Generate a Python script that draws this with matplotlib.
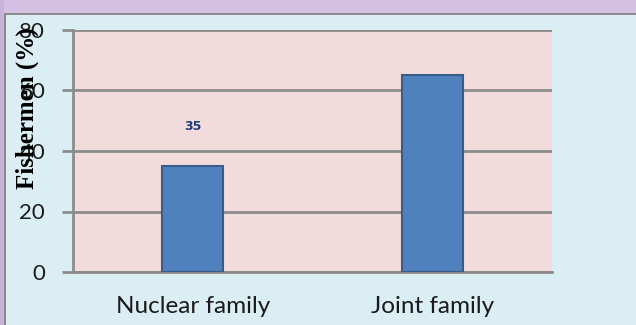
import numpy as np
import matplotlib.pyplot as plt
from matplotlib.patches import Rectangle

familias = ['Nuclear family', 'Joint family']
porcentaje = [35, 65]
etiqueta_valor = '35'
yticks = [0, 20, 40, 60, 80]

fig = plt.figure(figsize=(6.36, 3.25), dpi=100)
fig.patch.set_facecolor('#dbeef4')

# franja superior y borde izquierdo
fig.add_artist(Rectangle((0, 1 - 13/325), 1, 13/325, transform=fig.transFigure,
                         facecolor='#d3c0e3', edgecolor='none'))
fig.add_artist(Rectangle((0, 1 - 15/325), 1, 2/325, transform=fig.transFigure,
                         facecolor='#8c8c8c', edgecolor='none'))
fig.add_artist(Rectangle((0, 0), 4/636, 1, transform=fig.transFigure,
                         facecolor='#c9b3dc', edgecolor='none'))
fig.add_artist(Rectangle((4/636, 0), 2/636, 1 - 13/325, transform=fig.transFigure,
                         facecolor='#8c8c8c', edgecolor='none'))

ax = fig.add_axes([73/636, 1 - 272/325, 479/636, 242/325])
ax.set_facecolor('#f2dcdb')

x = np.arange(len(familias))
ax.bar(x, porcentaje, width=0.255, color='#4f81bd', edgecolor='#385d8a',
       linewidth=1.5, zorder=3)
ax.text(0, 48, etiqueta_valor, ha='center', va='center', fontsize=9,
        fontweight='bold', color='#1f3a7a', zorder=4)

ax.set_xlim(-0.5, 1.5)
ax.set_ylim(0, 80)
ax.set_yticks(yticks)
ax.yaxis.grid(True, color='#8c8c8c', linewidth=2)
ax.set_axisbelow(True)
for s in ['top', 'right']:
    ax.spines[s].set_visible(False)
ax.spines['left'].set_color('#8c8c8c')
ax.spines['left'].set_linewidth(2)
ax.spines['bottom'].set_color('#8c8c8c')
ax.spines['bottom'].set_linewidth(2)

ax.set_xticks(x)
ax.set_xticklabels(familias, fontsize=17.5, fontfamily='Lato', color='#1a1a1a')
ax.tick_params(axis='x', length=0, pad=17)
ax.tick_params(axis='y', length=8, width=2, color='#8c8c8c', labelsize=16,
               pad=12, labelcolor='#1a1a1a')
for t in ax.get_yticklabels():
    t.set_fontfamily('Lato')

fig.text(27/636, 1 - 108/325, 'Fishermen (%)', rotation=90, ha='center',
         va='center', fontsize=18, fontweight='bold', fontfamily='Liberation Serif')

fig.savefig('out.png', dpi=100, facecolor=fig.get_facecolor())
